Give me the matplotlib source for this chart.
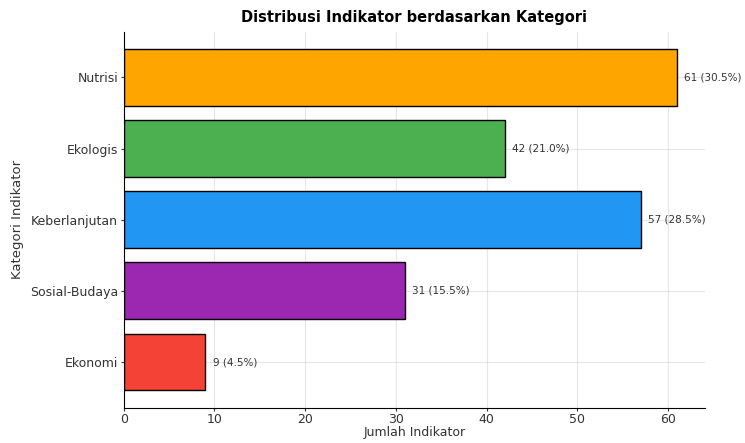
import matplotlib.pyplot as plt

# data
kategori = ['Ekonomi', 'Sosial-Budaya', 'Keberlanjutan', 'Ekologis', 'Nutrisi']
jumlah = [9, 31, 57, 42, 61]
persen = [4.5, 15.5, 28.5, 21.0, 30.5]
warna = ['#F44336', '#9C27B0', '#2196F3', '#4CAF50', '#FFA500']

fig = plt.figure(figsize=(7.45, 4.43), dpi=100)
ax = fig.add_axes([0.166, 0.08, 0.780, 0.848])

bars = ax.barh(kategori, jumlah, color=warna, edgecolor='black', linewidth=1, height=0.8)

for b, n, p in zip(bars, jumlah, persen):
    ax.text(b.get_width() + 0.8, b.get_y() + b.get_height() / 2,
            f'{n} ({p:.1f}%)', va='center', ha='left', fontsize=7.5, color='#333333')

ax.set_xlim(0, max(jumlah) * 1.05)
ax.set_title('Distribusi Indikator berdasarkan Kategori', fontsize=10.5,
             fontweight='bold', pad=7)
ax.set_xlabel('Jumlah Indikator', fontsize=9, labelpad=0, color='#333333')
ax.set_ylabel('Kategori Indikator', fontsize=9.5, labelpad=4, color='#333333')
ax.tick_params(labelsize=9, pad=1.5, length=2.5, colors='#333333')
ax.grid(True, alpha=0.3)
ax.set_axisbelow(True)
ax.spines['top'].set_visible(False)
ax.spines['right'].set_visible(False)

plt.savefig('out.png', dpi=100)
